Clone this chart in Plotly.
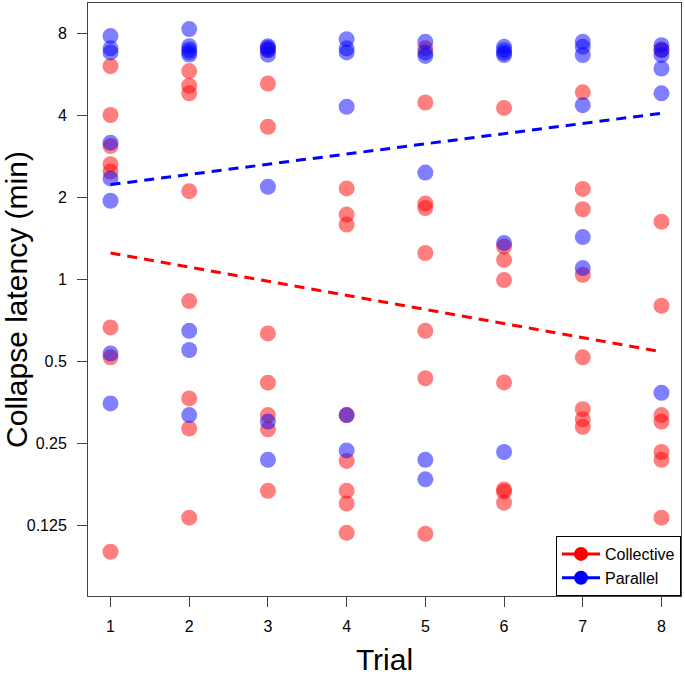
import plotly.graph_objects as go

# ---- data ----
collective_trial = [1]*8 + [2]*8 + [3]*8 + [4]*8 + [5]*8 + [6]*8 + [7]*8 + [8]*8
collective_latency = [
    6.08, 4.02, 3.09, 2.65, 2.49, 0.666, 0.517, 0.0997,
    5.83, 5.15, 4.83, 2.11, 0.832, 0.365, 0.283, 0.133,
    7.0, 5.25, 3.64, 0.633, 0.417, 0.317, 0.281, 0.167,
    2.16, 1.73, 1.59, 0.317, 0.215, 0.167, 0.15, 0.117,
    7.07, 4.47, 1.90, 1.83, 1.25, 0.647, 0.433, 0.116,
    4.27, 1.32, 1.18, 0.994, 0.418, 0.169, 0.166, 0.151,
    4.87, 2.15, 1.81, 1.04, 0.517, 0.333, 0.306, 0.287,
    7.0, 1.63, 0.8, 0.317, 0.30, 0.232, 0.217, 0.133,
]
parallel_trial = [1]*8 + [2]*8 + [3]*7 + [4]*6 + [5]*6 + [6]*6 + [7]*6 + [8]*6
parallel_latency = [
    7.84, 7.07, 6.83, 3.18, 2.35, 1.945, 0.534, 0.350,
    8.32, 7.2, 7.0, 6.85, 6.71, 0.647, 0.55, 0.317,
    7.2, 7.1, 6.95, 6.7, 2.19, 0.30, 0.217,
    7.64, 7.07, 6.83, 4.31, 0.317, 0.235,
    7.47, 6.83, 6.63, 2.47, 0.217, 0.184,
    7.16, 6.96, 6.8, 6.68, 1.36, 0.232,
    7.47, 7.16, 6.68, 4.37, 1.43, 1.10,
    7.26, 6.96, 6.68, 5.96, 4.83, 0.383,
]
fit_trial = [1, 8]
collective_fit = [1.25, 0.542]
parallel_fit = [2.23, 4.08]

y_tick_vals = [0.125, 0.25, 0.5, 1, 2, 4, 8]
y_tick_text = ["0.125", "0.25", "0.5", "1", "2", "4", "8"]
x_tick_vals = [1, 2, 3, 4, 5, 6, 7, 8]

RED = "rgba(255,0,0,0.5)"
BLUE = "rgba(0,0,255,0.5)"
FONT = "Liberation Sans, Arial, Helvetica, sans-serif"

fig = go.Figure()
fig.add_trace(go.Scatter(x=collective_trial, y=collective_latency, mode="markers",
                         marker=dict(size=16, color=RED, line=dict(width=0)),
                         showlegend=False, hoverinfo="skip"))
fig.add_trace(go.Scatter(x=parallel_trial, y=parallel_latency, mode="markers",
                         marker=dict(size=16, color=BLUE, line=dict(width=0)),
                         showlegend=False, hoverinfo="skip"))
fig.add_trace(go.Scatter(x=fit_trial, y=collective_fit, mode="lines",
                         line=dict(color="red", width=3, dash="10px,7px"),
                         showlegend=False))
fig.add_trace(go.Scatter(x=fit_trial, y=parallel_fit, mode="lines",
                         line=dict(color="blue", width=3, dash="10px,7px"),
                         showlegend=False))
# legend entries
fig.add_trace(go.Scatter(x=[None], y=[None], mode="lines+markers", name="Collective",
                         line=dict(color="red", width=3),
                         marker=dict(size=14, color="red")))
fig.add_trace(go.Scatter(x=[None], y=[None], mode="lines+markers", name="Parallel",
                         line=dict(color="blue", width=3),
                         marker=dict(size=14, color="blue")))

fig.update_layout(
    width=685, height=676,
    margin=dict(l=88, r=4, t=3, b=80, autoexpand=False),
    paper_bgcolor="white", plot_bgcolor="white",
    font=dict(family=FONT, size=14, color="black"),
    legend=dict(x=1, y=0, xanchor="right", yanchor="bottom",
                bgcolor="white", bordercolor="black", borderwidth=1,
                font=dict(size=16), tracegroupgap=0, itemwidth=38),
)
fig.update_xaxes(
    range=[0.714, 8.248], tickvals=x_tick_vals, automargin=False,
    ticks="outside", ticklen=10, tickcolor="#444", tickwidth=1,
    showline=True, linecolor="#444", linewidth=1, mirror=True,
    showgrid=False, zeroline=False, ticklabelstandoff=6,
    tickfont=dict(size=16),
    title=dict(text="Trial", font=dict(size=30), standoff=14),
)
fig.update_yaxes(
    type="log", range=[-1.164, 1.016], automargin=False,
    tickvals=y_tick_vals, ticktext=y_tick_text,
    ticks="outside", ticklen=10, tickcolor="#444", tickwidth=1,
    showline=True, linecolor="#444", linewidth=1, mirror=True,
    showgrid=False, zeroline=False, ticklabelstandoff=7,
    tickfont=dict(size=16),
    title=dict(text="Collapse latency (min)", font=dict(size=30), standoff=6),
)

fig.write_html("out.html", config={"displayModeBar": False},
               post_script="document.body.style.margin='0';document.body.style.overflow='hidden';")
